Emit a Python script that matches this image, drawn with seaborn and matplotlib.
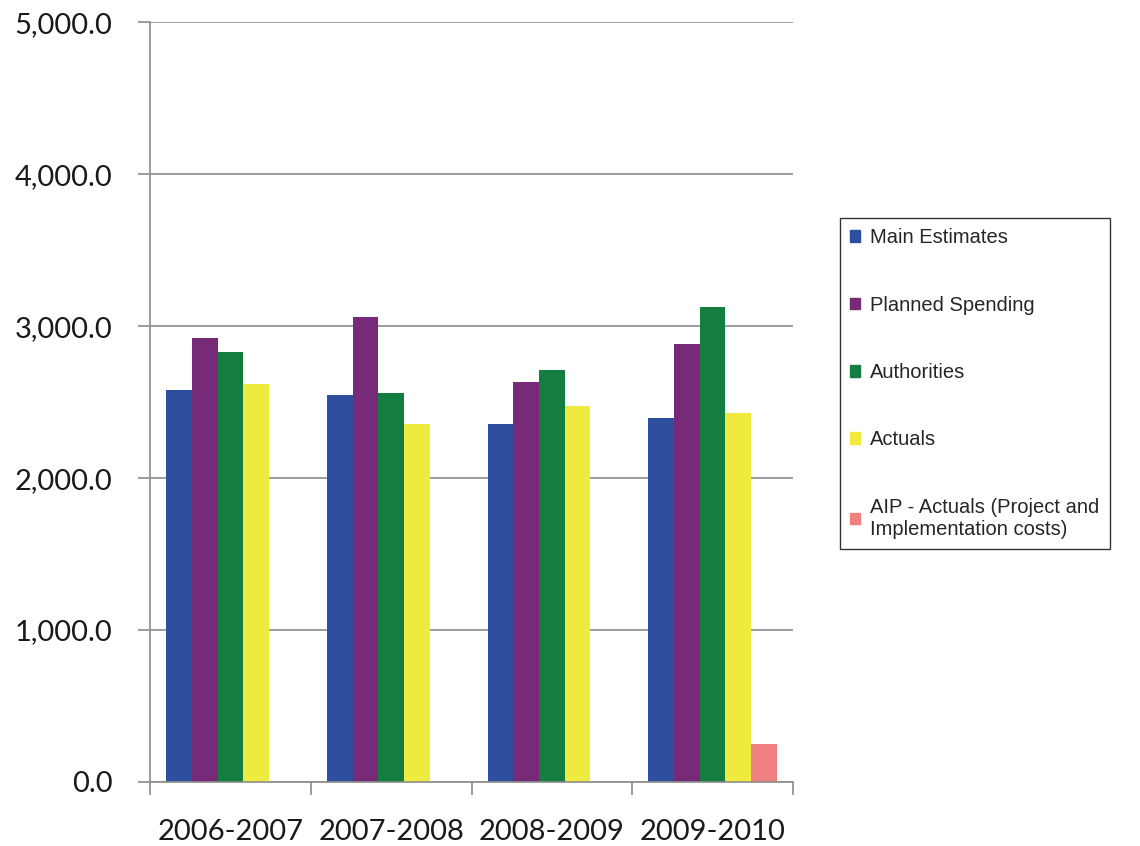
import pandas as pd
import numpy as np
import matplotlib
matplotlib.use('Agg')
import matplotlib.pyplot as plt
import seaborn as sns
from matplotlib.ticker import FuncFormatter

years = ['2006-2007', '2007-2008', '2008-2009', '2009-2010']
series = ['Main Estimates', 'Planned Spending', 'Authorities', 'Actuals',
          'AIP - Actuals (Project and\nImplementation costs)']
main_estimates = [2578, 2549, 2358, 2398]
planned_spending = [2922, 3059, 2632, 2885]
authorities = [2830, 2558, 2713, 3123]
actuals = [2622, 2358, 2477, 2430]
aip_actuals = [248]          # only reported for 2009-2010
aip_years = ['2009-2010']
colors = ['#2E4FA0', '#772A77', '#137E3F', '#EEEA3E', '#F08080']

rows = []
for name, vals, yrs in [(series[0], main_estimates, years),
                        (series[1], planned_spending, years),
                        (series[2], authorities, years),
                        (series[3], actuals, years),
                        (series[4], aip_actuals, aip_years)]:
    for y, v in zip(yrs, vals):
        rows.append({'year': y, 'series': name, 'value': v})
df = pd.DataFrame(rows)

sns.set_style('white')
plt.rcParams['font.family'] = ['Lato', 'DejaVu Sans']

fig = plt.figure(figsize=(11.4, 8.46), dpi=100)
ax = fig.add_axes([0.1316, 0.0757, 0.564, 0.898])

sns.barplot(data=df, x='year', y='value', hue='series', order=years,
            hue_order=series, palette=colors, width=0.8, saturation=1,
            errorbar=None, linewidth=0, ax=ax, legend=True)

ax.set_xlim(-0.5, 3.5)
ax.set_ylim(0, 5000)
ax.set_yticks(np.arange(0, 5001, 1000))
ax.yaxis.set_major_formatter(FuncFormatter(lambda v, p: f'{v:,.1f}'))
ax.yaxis.grid(True, color='#8c8c8c', linewidth=1.2)
ax.set_axisbelow(True)
ax.set_xlabel('')
ax.set_ylabel('')

for side in ['top', 'right']:
    ax.spines[side].set_visible(False)
for side in ['left', 'bottom']:
    ax.spines[side].set_color('#8c8c8c')
    ax.spines[side].set_linewidth(1.2)

# x ticks between the groups, like the original
ax.set_xticks(np.arange(-0.5, 4, 1), minor=False)
ax.set_xticklabels([])
ax.set_xticks(np.arange(4), minor=True)
ax.set_xticklabels(years, minor=True)
ax.tick_params(axis='x', which='major', length=9, color='#8c8c8c', width=1.2,
               direction='out', bottom=True)
ax.tick_params(axis='x', which='minor', length=0, labelsize=21, pad=27,
               labelcolor='#1a1a1a')
ax.tick_params(axis='y', length=9, color='#8c8c8c', width=1.2, direction='out',
               left=True, labelsize=21, pad=18, labelcolor='#1a1a1a')

ax.get_legend().remove()
handles = [plt.Rectangle((0, 0), 1, 1, color=c) for c in colors]
leg = fig.legend(handles, series, loc='upper left',
                 bbox_to_anchor=(0.737, 0.742), frameon=True, fancybox=False,
                 prop={'family': 'Liberation Sans', 'size': 14.5},
                 handlelength=0.5, handleheight=0.5, handletextpad=0.5,
                 labelspacing=2.4, borderpad=0.5, borderaxespad=0)
leg.get_frame().set_edgecolor('black')
leg.get_frame().set_linewidth(1.0)

fig.savefig('out.png', dpi=100)
